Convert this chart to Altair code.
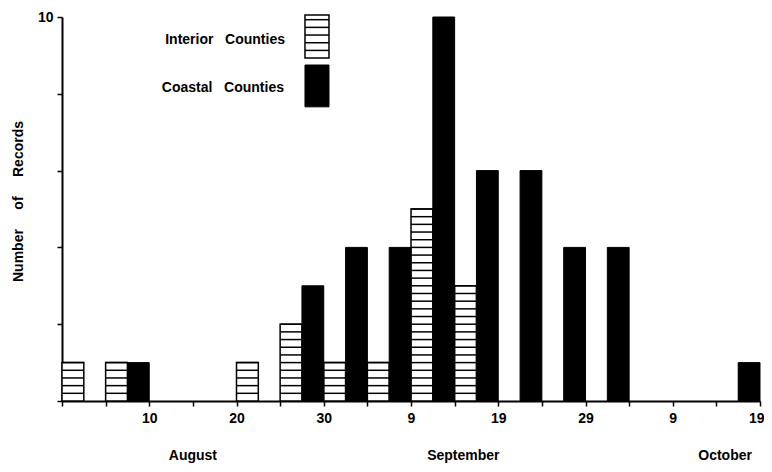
import altair as alt
import pandas as pd

# ---------------- data ----------------
# start of each 5-day period, in days after 31 July
period_start = [0, 5, 10, 15, 20, 25, 30, 35, 40, 45, 50, 55, 60, 65, 70, 75]
interior_records = [1, 1, 0, 0, 1, 2, 1, 1, 5, 3, 0, 0, 0, 0, 0, 0]
coastal_records = [0, 1, 0, 0, 0, 3, 4, 4, 10, 6, 6, 4, 4, 0, 0, 1]

x_tick_values = [10, 20, 30, 40, 50, 60, 70, 80]
x_tick_labels = ["10", "20", "30", "9", "19", "29", "9", "19"]
months = ["August", "September", "October"]
month_centre = [15, 46, 76]          # day position of each month caption
y_labelled = [5, 10]
series_names = ["Interior Counties", "Coastal Counties"]

# ---------------- style ----------------
PERIOD = 5
HALF = 2.5
STRIPE = 0.2
FONT = "Liberation Sans"
NB = "\u00a0"
legend_boxes = [  # x, x2, y, y2 of the two key swatches (data units)
    (27.85, 30.6, 8.93, 10.05),
    (27.85, 30.6, 7.66, 8.75),
]
legend_text_pos = [(223, 23), (222, 71)]   # pixels in plot area

# ---------------- tables ----------------
int_rows, coa_rows, stripe_rows = [], [], []
for s, vi, vc in zip(period_start, interior_records, coastal_records):
    if vi > 0:
        int_rows.append({"x": s, "x2": s + HALF, "y": 0, "y2": vi})
        for k in range(1, int(round(vi / STRIPE)) + 1):
            stripe_rows.append({"x": s, "x2": s + HALF, "y": k * STRIPE})
    if vc > 0:
        coa_rows.append({"x": s + HALF, "x2": s + PERIOD, "y": 0, "y2": vc})

leg_int = [{"x": legend_boxes[0][0], "x2": legend_boxes[0][1],
            "y": legend_boxes[0][2], "y2": legend_boxes[0][3]}]
leg_coa = [{"x": legend_boxes[1][0], "x2": legend_boxes[1][1],
            "y": legend_boxes[1][2], "y2": legend_boxes[1][3]}]
leg_stripes = []
yy = legend_boxes[0][2] + STRIPE
while yy < legend_boxes[0][3] - 0.05:
    leg_stripes.append({"x": legend_boxes[0][0], "x2": legend_boxes[0][1], "y": yy})
    yy += STRIPE

df_int = pd.DataFrame(int_rows + leg_int)
df_coa = pd.DataFrame(coa_rows + leg_coa)
df_str = pd.DataFrame(stripe_rows + leg_stripes)
df_month = pd.DataFrame({"month": months, "x": month_centre})
df_leg = pd.DataFrame({"name": [n.replace(" ", NB * 3) for n in series_names],
                       "px": [p[0] for p in legend_text_pos],
                       "py": [p[1] for p in legend_text_pos]})

# ---------------- axes ----------------
vals_js = "[" + ",".join(str(v) for v in x_tick_values) + "]"
labs_js = "[" + ",".join("'" + l + "'" for l in x_tick_labels) + "]"
x_label_expr = f"indexof({vals_js}, datum.value) >= 0 ? {labs_js}[indexof({vals_js}, datum.value)] : ''"
y_vals_js = "[" + ",".join(str(v) for v in y_labelled) + "]"
y_label_expr = f"indexof({y_vals_js}, datum.value) >= 0 ? datum.label : ''"

x_enc = alt.X("x:Q", scale=alt.Scale(domain=[0, 80], nice=False, zero=False),
              axis=alt.Axis(values=list(range(0, 81, 5)), labelExpr=x_label_expr,
                            title=None, grid=False, tickSize=5, tickWidth=1.5,
                            tickColor="black", domainColor="black", domainWidth=2,
                            labelFont=FONT, labelFontSize=14, labelFontWeight="bold",
                            labelColor="black", labelPadding=5,
                            labelFlush=True, labelFlushOffset=4))
y_enc = alt.Y("y:Q", scale=alt.Scale(domain=[0, 10], nice=False),
              axis=alt.Axis(values=list(range(0, 11)), labelExpr=y_label_expr,
                            title=f"Number{NB*5}of{NB*5}Records", grid=False,
                            tickSize=5, tickWidth=1.5, tickColor="black",
                            domainColor="black", domainWidth=2,
                            labelFont=FONT, labelFontSize=14, labelFontWeight="bold",
                            labelColor="black", labelPadding=4,
                            titleFont=FONT, titleFontSize=14, titleFontWeight="bold",
                            titleColor="black", titleX=-44, titleY=184,
                            titleAlign="center", titleBaseline="middle", titleAngle=270))

interior = alt.Chart(df_int).mark_bar(fill="white", stroke="black", strokeWidth=1.5).encode(
    x=x_enc, x2="x2:Q", y=y_enc, y2="y2:Q")
stripes = alt.Chart(df_str).mark_rule(color="black", strokeWidth=1.5).encode(
    x="x:Q", x2="x2:Q", y="y:Q")
coastal = alt.Chart(df_coa).mark_bar(fill="black", stroke="black", strokeWidth=1).encode(
    x="x:Q", x2="x2:Q", y="y:Q", y2="y2:Q")
month_text = alt.Chart(df_month).mark_text(
    font=FONT, fontSize=14, fontWeight="bold", color="black", baseline="middle", align="center"
).encode(x="x:Q", y=alt.value(439), text="month:N")
legend_text = alt.Chart(df_leg).mark_text(
    font=FONT, fontSize=14, fontWeight="bold", color="black", baseline="middle", align="right"
).encode(x=alt.X("px:Q", scale=None), y=alt.Y("py:Q", scale=None), text="name:N")

chart = alt.layer(interior, stripes, coastal, month_text, legend_text).properties(
    width=698, height=384,
    autosize=alt.AutoSizeParams(type="none"),
    padding={"left": 54, "top": 9, "right": 4, "bottom": 63},
    background="white",
).configure_view(stroke=None)

chart.save("out.html", embed_options={"renderer": "svg", "actions": False})
